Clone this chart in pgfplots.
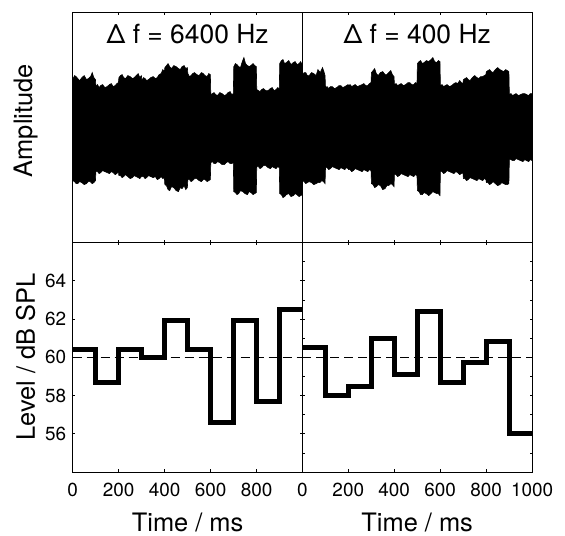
\documentclass[border=0pt]{standalone}
\usepackage{fontspec}
\setmainfont{TeX Gyre Heros}
\usepackage{pgfplots}
\pgfplotsset{compat=1.18}
\pgfplotsset{
  panel/.style={
    scale only axis, xmin=0, xmax=1000,
    axis line style={line width=0.9bp},
    tick align=inside, major tick length=2.5bp,
    every tick/.style={line width=0.7bp, black},
    ticklabel style={font=\fontsize{19}{21}\selectfont},
    label style={font=\fontsize{25.5}{29}\selectfont},
    /pgf/number format/assume math mode=true,
    /pgf/number format/1000 sep={},
    xtick={0,200,...,1000},
  },
  wavepanel/.style={panel, width=229.8bp, height=229.8bp,
    ymin=-114.9, ymax=114.9, ytick=\empty, xticklabels={}},
  levelpanel/.style={panel, width=229.8bp, height=229.5bp,
    ymin=54, ymax=66,
    xticklabel style={yshift=-8bp},
    xlabel style={at={(axis description cs:0.5,-0.22)}, anchor=center},
    xlabel={Time / ms}},
  steps/.style={const plot, line width=5bp, black, line join=miter, line cap=butt},
  ref/.style={black, line width=0.8bp, dash pattern=on 9bp off 5bp},
}
\begin{document}
\begin{tikzpicture}
% top left
\begin{axis}[wavepanel, anchor=south west, at={(72.7bp,293.5bp)},
  ylabel={Amplitude}, ylabel style={at={(axis description cs:-0.205,0.53)}, anchor=center}]
\addplot[fill=black, draw=black, line width=0.6bp] coordinates {
(0,48) (8,52) (15,51) (22,49) (30,47) (40,50) (50,52) (60,48) (68,49) (78,51) (85,55) (92,50) (99,48)
(101,41) (108,43) (115,40) (122,42) (130,43) (140,40) (150,41) (160,43) (168,44) (176,41) (185,42) (192,44) (199,45)
(201,50) (208,52) (215,53) (222,50) (230,49) (240,52) (250,51) (260,49) (268,50) (276,52) (285,54) (292,50) (299,52)
(301,47) (308,50) (315,49) (322,47) (330,48) (340,50) (350,51) (360,49) (368,50) (376,53) (385,54) (392,58) (399,56)
(401,60) (408,62) (415,64) (422,61) (430,59) (440,62) (450,61) (460,59) (468,58) (476,61) (485,62) (492,59) (499,60)
(501,54) (508,51) (515,52) (522,54) (530,55) (540,53) (550,52) (560,55) (568,54) (576,52) (585,51) (592,54) (599,53)
(601,33) (608,34) (615,35) (622,33) (630,32) (640,35) (650,34) (660,32) (668,33) (676,35) (685,36) (692,33) (699,34)
(701,61) (708,64) (715,63) (722,61) (730,60) (738,66) (745,70) (752,64) (760,62) (770,61) (785,64) (792,62) (799,61)
(801,38) (808,37) (815,36) (822,38) (830,39) (840,37) (850,37) (860,39) (868,40) (876,37) (885,38) (892,40) (899,39)
(901,64) (908,67) (915,68) (922,64) (930,65) (940,67) (950,63) (960,65) (968,66) (976,63) (985,64) (992,66) (1000,62)
(1000,-67) (992,-68) (985,-69) (976,-67) (968,-66) (960,-68) (950,-69) (940,-66) (930,-67) (922,-69) (915,-70) (908,-67) (901,-66)
(899,-40) (892,-39) (885,-41) (876,-40) (868,-39) (860,-41) (850,-40) (840,-38) (830,-38) (822,-40) (815,-41) (808,-39) (801,-39)
(799,-65) (792,-66) (785,-67) (776,-65) (768,-64) (760,-67) (750,-66) (740,-64) (730,-63) (722,-66) (715,-67) (708,-65) (701,-64)
(699,-35) (692,-36) (685,-36) (676,-34) (668,-35) (660,-37) (650,-37) (640,-35) (630,-34) (622,-36) (615,-36) (608,-34) (601,-35)
(599,-52) (592,-53) (585,-54) (576,-52) (568,-52) (560,-54) (550,-53) (540,-51) (530,-51) (522,-53) (515,-54) (508,-52) (501,-52)
(499,-60) (492,-62) (485,-58) (476,-61) (468,-60) (460,-64) (450,-63) (440,-60) (430,-59) (422,-63) (415,-62) (408,-58) (401,-57)
(399,-50) (392,-51) (385,-49) (376,-51) (368,-52) (360,-49) (350,-50) (340,-49) (330,-48) (322,-50) (315,-51) (308,-49) (301,-49)
(299,-49) (292,-51) (285,-50) (276,-49) (268,-48) (260,-50) (250,-51) (240,-49) (230,-47) (222,-49) (215,-50) (208,-48) (201,-48)
(199,-44) (192,-46) (185,-47) (176,-45) (168,-44) (160,-46) (150,-45) (140,-44) (130,-43) (122,-45) (115,-46) (108,-44) (101,-44)
(99,-53) (92,-55) (85,-56) (76,-54) (68,-54) (60,-56) (50,-57) (40,-55) (30,-54) (22,-56) (15,-56) (8,-54) (0,-53)
} -- cycle;
\node[font=\fontsize{26.5}{30}\selectfont] at (rel axis cs:0.5,0.909) {Δ f = 6400 Hz};
\end{axis}
% top right
\begin{axis}[wavepanel, anchor=south west, at={(302.3bp,293.5bp)}]
\addplot[fill=black, draw=black, line width=0.6bp] coordinates {
(0,53) (8,55) (15,55) (22,52) (30,52) (40,55) (50,54) (60,52) (68,58) (78,55) (88,60) (94,56) (99,52)
(101,40) (108,41) (115,39) (122,41) (130,41) (140,39) (150,40) (160,42) (168,42) (176,40) (185,41) (192,42) (199,43)
(201,42) (208,43) (215,41) (222,42) (230,43) (240,41) (250,42) (260,43) (268,44) (276,42) (285,42) (292,44) (299,45)
(301,55) (308,57) (315,59) (322,54) (330,52) (340,55) (350,56) (360,53) (368,53) (376,55) (385,57) (392,53) (399,51)
(401,43) (408,44) (415,42) (422,43) (430,44) (440,42) (450,43) (460,45) (468,45) (476,43) (485,43) (492,45) (499,44)
(501,64) (508,66) (515,67) (522,64) (530,65) (540,67) (550,66) (560,68) (568,70) (576,66) (585,65) (592,67) (599,66)
(601,42) (608,43) (615,41) (622,42) (630,43) (640,41) (650,42) (660,44) (668,45) (676,44) (685,47) (692,45) (699,44)
(701,48) (708,49) (715,50) (722,48) (730,47) (740,50) (750,52) (760,50) (768,49) (776,51) (785,51) (792,52) (799,53)
(801,56) (808,57) (815,58) (822,56) (830,55) (840,58) (850,60) (860,58) (868,57) (876,56) (885,58) (892,57) (899,56)
(901,33) (908,34) (915,32) (922,33) (930,34) (940,32) (950,33) (960,34) (968,34) (976,33) (985,32) (992,34) (1000,34)
(1000,-33) (992,-32) (985,-34) (976,-33) (968,-32) (960,-34) (950,-33) (940,-32) (930,-31) (922,-33) (915,-33) (908,-32) (901,-32)
(899,-56) (892,-57) (885,-57) (876,-56) (868,-55) (860,-57) (850,-58) (840,-56) (830,-54) (822,-56) (815,-57) (808,-55) (801,-55)
(799,-52) (792,-51) (785,-53) (776,-52) (768,-51) (760,-53) (750,-52) (740,-51) (730,-50) (722,-52) (715,-53) (708,-51) (701,-51)
(699,-45) (692,-46) (685,-47) (676,-45) (668,-44) (660,-46) (650,-45) (640,-44) (630,-43) (622,-45) (615,-46) (608,-44) (601,-44)
(599,-68) (592,-66) (585,-66) (576,-65) (568,-64) (560,-66) (550,-68) (540,-66) (530,-65) (522,-67) (515,-67) (508,-64) (501,-63)
(499,-48) (492,-47) (485,-49) (476,-48) (468,-47) (460,-49) (450,-48) (440,-47) (430,-46) (422,-48) (415,-49) (408,-47) (401,-47)
(399,-59) (392,-57) (385,-56) (376,-58) (368,-58) (360,-61) (350,-62) (340,-58) (330,-57) (322,-59) (315,-60) (308,-57) (301,-56)
(299,-43) (292,-42) (285,-44) (276,-43) (268,-42) (260,-44) (250,-43) (240,-42) (230,-41) (222,-43) (215,-44) (208,-42) (201,-42)
(199,-41) (192,-40) (185,-42) (176,-41) (168,-40) (160,-42) (150,-41) (140,-40) (130,-39) (122,-41) (115,-42) (108,-40) (101,-40)
(99,-56) (92,-54) (85,-53) (76,-55) (68,-55) (60,-56) (50,-57) (40,-55) (30,-54) (22,-55) (15,-56) (8,-54) (0,-53)
} -- cycle;
\node[font=\fontsize{26.5}{30}\selectfont] at (rel axis cs:0.5,0.909) {Δ f = 400 Hz};
\end{axis}
% bottom left
\begin{axis}[levelpanel, anchor=south west, at={(72.7bp,64bp)},
  xtick={0,200,...,800}, ytick={56,58,...,64},
  yticklabel style={xshift=-3bp},
  ylabel={Level / dB SPL}, ylabel style={at={(axis description cs:-0.205,0.5)}, anchor=center}]
\addplot[ref] coordinates {(0,60) (1000,60)};
\addplot[steps] coordinates {(0,60.4) (100,58.7) (200,60.4) (300,60.0) (400,61.9) (500,60.4) (600,56.6) (700,61.9) (800,57.7) (900,62.5) (1000,62.5)};
\end{axis}
% bottom right
\begin{axis}[levelpanel, anchor=south west, at={(302.3bp,64bp)},
  ytick={55,...,65}, yticklabels={}]
\addplot[ref] coordinates {(0,60) (1000,60)};
\addplot[steps] coordinates {(0,60.5) (100,58.0) (200,58.45) (300,61.0) (400,59.1) (500,62.4) (600,58.7) (700,59.7) (800,60.8) (900,56.0) (1000,56.0)};
\end{axis}
\path (0,0) rectangle (565bp,536bp);
\end{tikzpicture}
\end{document}
